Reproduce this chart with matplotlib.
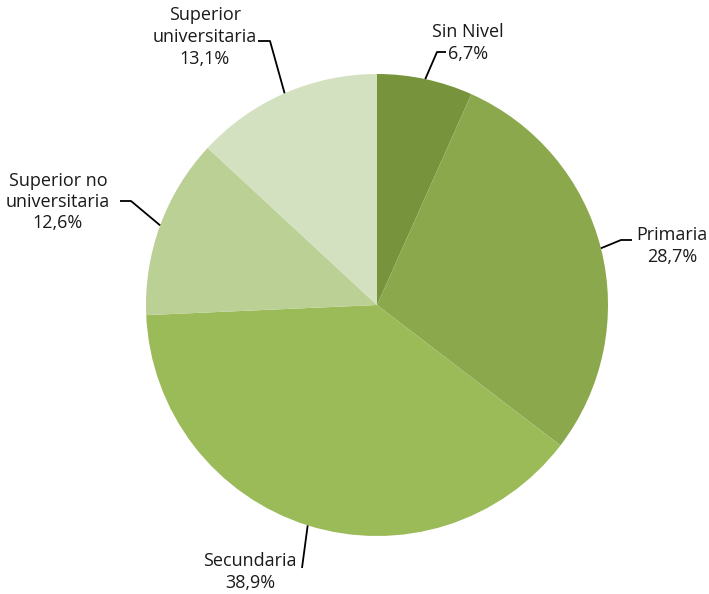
import numpy as np
import matplotlib.pyplot as plt

# Education level shares (%)
labels = ["Sin Nivel", "Primaria", "Secundaria", "Superior no\nuniversitaria", "Superior\nuniversitaria"]
values = [6.7, 28.7, 38.9, 12.6, 13.1]
colors = ["#77933c", "#8ba84c", "#9bbb59", "#bbd095", "#d4e1c0"]

plt.rcParams['font.family'] = ['Open Sans', 'DejaVu Sans']

W, H = 709, 594
fig = plt.figure(figsize=(W / 100, H / 100), dpi=100)
ax = fig.add_axes([0, 0, 1, 1])

cx, cy, r = 377, H - 305, 231
wedges, _ = ax.pie(values, colors=colors, startangle=90, counterclock=False,
                   radius=r, center=(cx, cy), frame=True,
                   wedgeprops=dict(linewidth=0))
ax.set_xlim(0, W)
ax.set_ylim(0, H)
ax.set_aspect('equal')
ax.axis('off')

# label layout: (elbow x, elbow y, end x, text x, text y) in pixel coords (y from top)
layout = [
    (437, 52, 446, 468, 43),
    (621, 240, 632, 672, 246),
    (302, 568, 302, 250, 572),
    (131, 201, 120, 58, 202),
    (270, 41, 258, 205, 37),
]

for w, v, lab, (ex, ey, hx, tx, ty) in zip(wedges, values, labels, layout):
    mid = np.deg2rad((w.theta1 + w.theta2) / 2)
    px = cx + r * np.cos(mid)
    py = cy + r * np.sin(mid)
    ax.plot([px, ex, hx], [py, H - ey, H - ey], color='black', lw=1.3,
            solid_capstyle='butt')
    txt = lab + "\n" + f"{v:.1f}%".replace('.', ',')
    ax.text(tx, H - ty, txt, ha='center', va='center', fontsize=13,
            color='#1a1a1a', linespacing=1.25)

fig.savefig('out.png', dpi=100)
